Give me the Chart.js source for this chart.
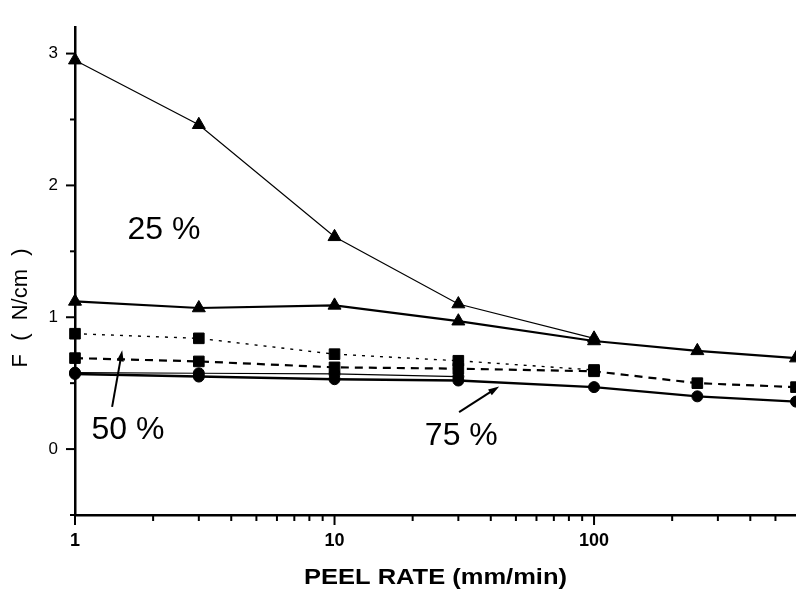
<!DOCTYPE html>
<html>
<head>
<meta charset="utf-8">
<script src="https://cdn.jsdelivr.net/npm/chart.js@4/dist/chart.umd.min.js"></script>
<style>
  html, body { margin: 0; padding: 0; background: #ffffff; }
  #wrap { width: 796px; height: 590px; }
</style>
</head>
<body>
<div id="wrap"><canvas id="c" width="796" height="590"></canvas></div>
<script>
// ---- data ----
const peelRates = [1, 3, 10, 30, 100, 250, 600];           // mm/min
const tri25Upper = [2.95, 2.46, 1.61, 1.10, 0.84, null, null];
const tri25Lower = [1.12, 1.07, 1.09, 0.97, 0.82, 0.745, 0.69];
const sq50Upper  = [0.875, 0.84, 0.72, 0.67, 0.60, null, null];
const sq50Lower  = [0.69, 0.665, 0.62, 0.61, 0.59, 0.50, 0.47];
const ci75Upper  = [0.58, 0.575, 0.57, 0.55, null, null, null];
const ci75Lower  = [0.57, 0.55, 0.53, 0.52, 0.47, 0.40, 0.36];
const xTickValues = [1,2,3,4,5,6,7,8,9,10,20,30,40,50,60,70,80,90,100,200,300,400,500];
const xMajorTicks = [1, 10, 100];
const yTickValues = [-0.5, 0, 0.5, 1, 1.5, 2, 2.5, 3];
const xTitle = 'PEEL RATE (mm/min)';
const yTitle = 'F ( N/cm )';
const labels = [
  { text: '25 %', x: 2.2, y: 1.66 },
  { text: '50 %', x: 1.6, y: 0.145 },
  { text: '75 %', x: 30.8, y: 0.10 }
];
const arrows = [
  { from: [1.39, 0.32], to: [1.52, 0.75] },
  { from: [30.2, 0.28], to: [43.1, 0.475] }
];

const FONT = '"Liberation Sans", Arial, Helvetica, sans-serif';

function pts(arr) { return peelRates.map((x, i) => ({ x: x, y: arr[i] })); }

function ds(arr, style, radius, width, dash) {
  return {
    data: pts(arr),
    borderColor: '#000',
    backgroundColor: '#000',
    borderWidth: width,
    borderDash: dash,
    pointStyle: style,
    pointRadius: radius,
    pointBorderWidth: 1,
    pointBackgroundColor: '#000',
    pointBorderColor: '#000',
    tension: 0,
    spanGaps: false,
    clip: false
  };
}

const tickMarks = {
  id: 'tickMarks',
  afterDraw(chart) {
    const ctx = chart.ctx;
    const xs = chart.scales.x, ys = chart.scales.y;
    ctx.save();
    ctx.strokeStyle = '#000';
    ctx.lineWidth = 2;
    xs.ticks.forEach(t => {
      const px = xs.getPixelForValue(t.value);
      const len = xMajorTicks.includes(t.value) ? 10 : 6;
      ctx.beginPath(); ctx.moveTo(px, xs.top); ctx.lineTo(px, xs.top + len); ctx.stroke();
    });
    ys.ticks.forEach(t => {
      const py = ys.getPixelForValue(t.value);
      const len = Number.isInteger(t.value) ? 9 : 5;
      ctx.beginPath(); ctx.moveTo(ys.right, py); ctx.lineTo(ys.right - len, py); ctx.stroke();
    });
    ctx.restore();

    // x axis title (slightly wide lettering, as in the reference)
    ctx.save();
    ctx.fillStyle = '#000';
    ctx.font = 'bold 22px ' + FONT;
    ctx.textAlign = 'center';
    ctx.textBaseline = 'middle';
    const xw = ctx.measureText(xTitle).width;
    const sx = 263 / xw;
    ctx.translate((chart.chartArea.left + chart.chartArea.right) / 2, 578);
    ctx.scale(sx, 1);
    ctx.fillText(xTitle, 0, 0);
    ctx.restore();

    // y axis title
    ctx.save();
    ctx.fillStyle = '#000';
    ctx.font = '22px ' + FONT;
    ctx.textAlign = 'center';
    ctx.textBaseline = 'middle';
    const w = ctx.measureText(yTitle).width;
    const gaps = (yTitle.match(/ /g) || []).length;
    const ws = Math.max(0, (119 - w) / gaps);
    ctx.translate(21, 308);
    ctx.rotate(-Math.PI / 2);
    if ('wordSpacing' in ctx) ctx.wordSpacing = ws.toFixed(2) + 'px';
    ctx.fillText(yTitle, 0, 0);
    ctx.restore();
  }
};

const annot = {
  id: 'annot',
  afterDatasetsDraw(chart) {
    const ctx = chart.ctx;
    const xs = chart.scales.x, ys = chart.scales.y;
    ctx.save();
    ctx.fillStyle = '#000';
    ctx.strokeStyle = '#000';
    ctx.font = '32px ' + FONT;
    ctx.textAlign = 'center';
    ctx.textBaseline = 'middle';
    labels.forEach(l => {
      ctx.fillText(l.text, xs.getPixelForValue(l.x), ys.getPixelForValue(l.y));
    });
    arrows.forEach(a => {
      const x1 = xs.getPixelForValue(a.from[0]), y1 = ys.getPixelForValue(a.from[1]);
      const x2 = xs.getPixelForValue(a.to[0]), y2 = ys.getPixelForValue(a.to[1]);
      const ang = Math.atan2(y2 - y1, x2 - x1);
      const hl = 11, hw = 3.5;
      ctx.lineWidth = 2;
      ctx.beginPath();
      ctx.moveTo(x1, y1);
      ctx.lineTo(x2 - Math.cos(ang) * hl * 0.8, y2 - Math.sin(ang) * hl * 0.8);
      ctx.stroke();
      ctx.beginPath();
      ctx.moveTo(x2, y2);
      ctx.lineTo(x2 - Math.cos(ang) * hl - Math.sin(ang) * hw, y2 - Math.sin(ang) * hl + Math.cos(ang) * hw);
      ctx.lineTo(x2 - Math.cos(ang) * hl + Math.sin(ang) * hw, y2 - Math.sin(ang) * hl - Math.cos(ang) * hw);
      ctx.closePath();
      ctx.fill();
    });
    ctx.restore();
  }
};

new Chart(document.getElementById('c'), {
  type: 'line',
  data: {
    datasets: [
      ds(tri25Upper, 'triangle', 7.5, 1.2, []),
      ds(tri25Lower, 'triangle', 7.5, 2.2, []),
      ds(sq50Upper, 'rect', 7.5, 1.4, [3, 6]),
      ds(sq50Lower, 'rect', 7.5, 2.2, [8, 6]),
      ds(ci75Upper, 'circle', 5.5, 1.2, []),
      ds(ci75Lower, 'circle', 5.5, 2.4, [])
    ]
  },
  options: {
    responsive: false,
    animation: false,
    devicePixelRatio: 1,
    layout: { autoPadding: false, padding: { top: 11, left: 0, right: 0, bottom: 0 } },
    plugins: { legend: { display: false }, tooltip: { enabled: false }, title: { display: false } },
    scales: {
      x: {
        type: 'logarithmic',
        min: 1, max: 600,
        afterBuildTicks(scale) {
          scale.ticks = xTickValues.map(v => ({ value: v, major: xMajorTicks.includes(v) }));
        },
        afterFit(scale) { scale.height = 75; },
        grid: { display: true, drawOnChartArea: false, drawTicks: false },
        border: { display: true, color: '#000', width: 2.5 },
        ticks: {
          autoSkip: false, maxRotation: 0, minRotation: 0, padding: 15,
          color: '#000',
          font: { family: FONT, size: 18, weight: 'bold' },
          callback: (v) => xMajorTicks.includes(v) ? String(v) : ''
        },
        title: { display: false }
      },
      y: {
        type: 'linear',
        min: -0.5, max: 3.2,
        afterBuildTicks(scale) {
          scale.ticks = yTickValues.map(v => ({ value: v }));
        },
        afterFit(scale) { scale.width = 75; },
        grid: { display: true, drawOnChartArea: false, drawTicks: false },
        border: { display: true, color: '#000', width: 2.5 },
        ticks: {
          padding: 17,
          color: '#000',
          font: { family: FONT, size: 17 },
          callback: (v) => Number.isInteger(v) ? String(v) : ''
        }
      }
    }
  },
  plugins: [tickMarks, annot]
});
</script>
</body>
</html>
